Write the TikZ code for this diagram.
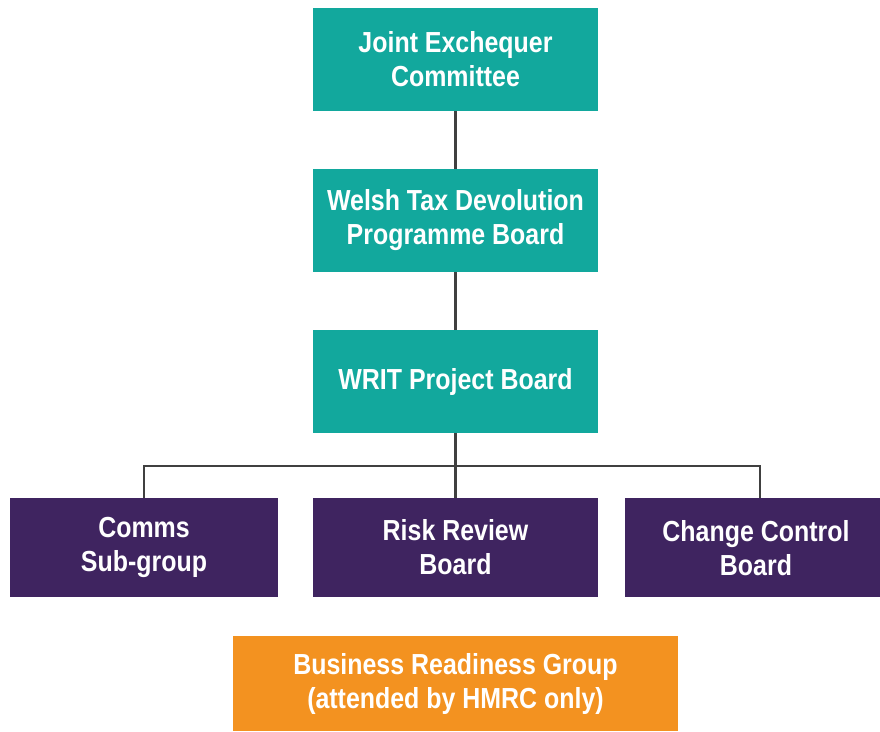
\documentclass[tikz,border=0pt]{standalone}
\usepackage{fontspec}
\setmainfont{Liberation Sans}[FakeStretch=0.86]
\definecolor{teal1}{HTML}{12A89D}
\definecolor{purp1}{HTML}{3F2460}
\definecolor{orng1}{HTML}{F39220}
\definecolor{line1}{HTML}{404040}
\begin{document}
\begin{tikzpicture}[x=1pt,y=-1pt,
  box/.style={inner sep=0pt, outer sep=0pt, text=white, align=center,
    font=\fontsize{29}{34}\selectfont\bfseries},
  tealbox/.style={box, fill=teal1, minimum width=285pt, minimum height=103pt},
  purpbox/.style={box, fill=purp1, minimum height=99pt},
  conn/.style={draw=line1, line width=2.5pt}]
\useasboundingbox (0,0) rectangle (880,731);
\node[tealbox] (jec) at (455.5,59.5) {Joint Exchequer\\Committee};
\node[tealbox] (wtd) at (455.5,220.5) {Welsh Tax Devolution\\Programme Board};
\node[tealbox] (writ) at (455.5,381.5) {WRIT Project Board};
\node[purpbox, minimum width=268pt] (comms) at (144,547.5) {Comms\\Sub-group};
\node[purpbox, minimum width=285pt] (risk) at (455.5,547.5) {Risk Review\\Board};
\node[purpbox, minimum width=255pt] (cc) at (752.5,547.5) {};
\node[box] (cctext) at (756,548) {Change Control\\Board};
\node[box, fill=orng1, minimum width=445pt, minimum height=95pt] (brg) at (455.5,683.5) {Business Readiness Group\\(attended by HMRC only)};
\coordinate (hl) at (144,466);
\coordinate (hr) at (760,466);
\draw[conn] (jec.south) -- (wtd.north);
\draw[conn] (wtd.south) -- (writ.north);
\draw[conn] (writ.south) -- (risk.north);
\draw[conn] (comms.north -| hl) -- (hl) -- (hr) -- (cc.north -| hr);
\end{tikzpicture}
\end{document}
